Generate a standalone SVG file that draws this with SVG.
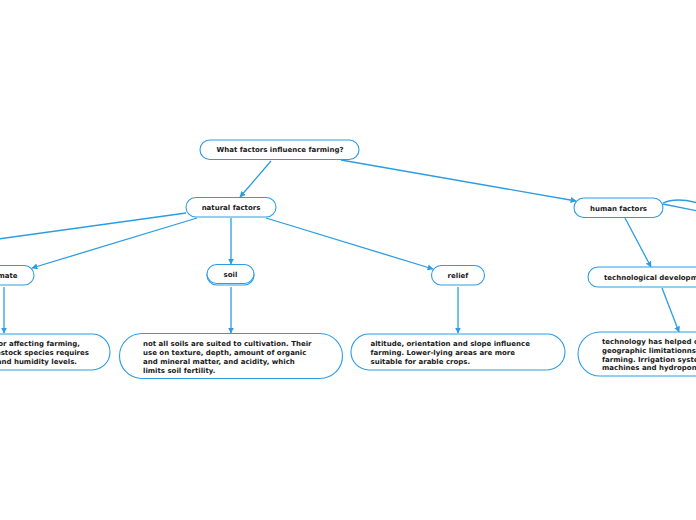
<svg xmlns="http://www.w3.org/2000/svg" width="696" height="520" viewBox="0 0 696 520">
<style>
.box{fill:#fff;stroke:#2b9de2;stroke-width:1.1}
.t{font-family:"DejaVu Sans",Verdana,sans-serif;font-weight:bold;font-size:7px;fill:#1a1a1a}
.c{text-anchor:middle}
.e{text-anchor:end}
.ln{fill:none;stroke:#2b9de2;stroke-width:1.3}
</style>
<defs>
<marker id="ar" viewBox="0 0 10 10" refX="9" refY="5" markerWidth="6" markerHeight="6" markerUnits="userSpaceOnUse" orient="auto">
<path d="M0,0 L10,5 L0,10 z" fill="#2b9de2"/>
</marker>
</defs>
<rect width="696" height="520" fill="#fff"/>
<g id="connectors">
<path class="ln" d="M271,161 L240,197" marker-end="url(#ar)"/>
<path class="ln" d="M341,160 L576,201" marker-end="url(#ar)"/>
<path class="ln" d="M186,213 L-2,239"/>
<path class="ln" d="M197,218 L32,268" marker-end="url(#ar)"/>
<path class="ln" d="M231,218 L231,264" marker-end="url(#ar)"/>
<path class="ln" d="M266,218 L433,269" marker-end="url(#ar)"/>
<path class="ln" d="M4,287 L4,333" marker-end="url(#ar)"/>
<path class="ln" d="M231,287 L231,333" marker-end="url(#ar)"/>
<path class="ln" d="M458,287 L458,333" marker-end="url(#ar)"/>
<path class="ln" d="M625,218 L651,267" marker-end="url(#ar)"/>
<path class="ln" d="M662,288 L679,332" marker-end="url(#ar)"/>
<path class="ln" d="M663,203 Q676,197 698,203"/>
<path class="ln" d="M663,204 L698,211"/>
</g>
<g id="root">
<rect class="box" x="200" y="140" width="159" height="19.5" rx="9.75"/>
<text class="t c" x="280" y="152">What factors influence farming?</text>
</g>
<g id="natural">
<rect class="box" x="186" y="197.5" width="90" height="19.5" rx="9.75"/>
<text class="t c" x="231" y="210">natural factors</text>
</g>
<g id="human">
<rect class="box" x="574" y="198" width="89" height="19.5" rx="9.75"/>
<text class="t c" x="618.5" y="210.5">human factors</text>
</g>
<g id="climate">
<rect class="box" x="-28" y="265.5" width="62" height="19.5" rx="9.75"/>
<text class="t c" x="3" y="278">climate</text>
</g>
<g id="soil">
<rect class="box" x="207" y="266" width="47" height="19" rx="9.5"/>
<rect class="box" x="207" y="264.5" width="47" height="19" rx="9.5"/>
<text class="t c" x="230.5" y="276.5">soil</text>
</g>
<g id="relief">
<rect class="box" x="431.5" y="265.5" width="53" height="19.5" rx="9.75"/>
<text class="t c" x="458" y="278">relief</text>
</g>
<g id="tech">
<rect class="box" x="588" y="267" width="140" height="20" rx="10"/>
<text class="t" x="604" y="279.5">technological development</text>
</g>
<g id="climate-desc">
<rect class="box" x="-120" y="334" width="230" height="36" rx="18"/>
<text class="t e" x="80" y="346">climate is the main factor affecting farming,</text>
<text class="t e" x="89" y="355">since each crop and livestock species requires</text>
<text class="t e" x="77" y="364">specific temperature and humidity levels.</text>
</g>
<g id="soil-desc">
<rect class="box" x="119.5" y="333.5" width="223" height="45" rx="22.5"/>
<text class="t" x="143" y="346">not all soils are suited to cultivation. Their</text>
<text class="t" x="143" y="355">use on texture, depth, amount of organic</text>
<text class="t" x="143" y="364">and mineral matter, and acidity, which</text>
<text class="t" x="143" y="372.5">limits soil fertility.</text>
</g>
<g id="relief-desc">
<rect class="box" x="351" y="334" width="214" height="36" rx="18"/>
<text class="t" x="370.5" y="346">altitude, orientation and slope influence</text>
<text class="t" x="370.5" y="355">farming. Lower-lying areas are more</text>
<text class="t" x="370.5" y="363.5">suitable for arable crops.</text>
</g>
<g id="tech-desc">
<rect class="box" x="578" y="332" width="200" height="44" rx="22"/>
<text class="t" x="602" y="344">technology has helped overcome</text>
<text class="t" x="602" y="353">geographic limitationns in</text>
<text class="t" x="602" y="361.5">farming. Irrigation systems,</text>
<text class="t" x="602" y="370">machines and hydroponics</text>
</g>
</svg>
